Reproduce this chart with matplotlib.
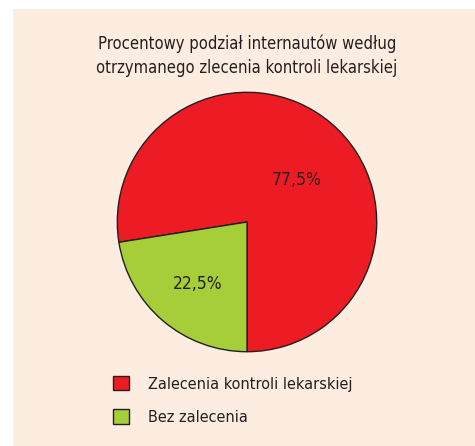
import matplotlib
matplotlib.use("Agg")
import matplotlib.pyplot as plt
from matplotlib.patches import Rectangle, Patch

W, H = 475, 446
DPI = 100

TITLE = "Procentowy podział internautów według\notrzymanego zlecenia kontroli lekarskiej"
labels = ["Zalecenia kontroli lekarskiej", "Bez zalecenia"]
values = [77.5, 22.5]
colors = ["#ED1C24", "#A6CE39"]
BG = "#FDEDE0"
INK = "#231F20"

plt.rcParams["font.family"] = ["DejaVu Sans"]
plt.rcParams["font.stretch"] = "condensed"

fig = plt.figure(figsize=(W / DPI, H / DPI), dpi=DPI, facecolor="white")

# beige panel
fig.patches.append(Rectangle((13 / W, 0), 1 - 13 / W, (H - 9) / H,
                             transform=fig.transFigure, facecolor=BG,
                             edgecolor="none", zorder=-1))

fig.text(247 / W, 1 - 56 / H, TITLE, ha="center", va="center",
         fontsize=11.9, color=INK, linespacing=1.45)

# pie axes: centre (247, 222) px, radius 131 px
cx, cy, r = 247, 222, 131
ax = fig.add_axes([(cx - r) / W, (H - cy - r) / H, 2 * r / W, 2 * r / H])
ax.set_facecolor("none")
wedges, texts, autotexts = ax.pie(
    values, colors=colors, startangle=270, counterclock=True,
    autopct=lambda p: f"{p:.1f}%".replace(".", ","),
    wedgeprops=dict(edgecolor=INK, linewidth=1),
    textprops=dict(fontsize=12.5, color=INK))
# label placement as in the original
autotexts[0].set_position((0.38, 0.32))
autotexts[1].set_position((-0.38, -0.48))
ax.set_xlim(-1.01, 1.01)
ax.set_ylim(-1.01, 1.01)

handles = [Patch(facecolor=c, edgecolor=INK, linewidth=1) for c in colors]
fig.legend(handles, labels, loc="upper left",
           bbox_to_anchor=(113 / W, 1 - 376 / H), frameon=False,
           borderpad=0, borderaxespad=0,
           fontsize=11.6, handlelength=1.0, handleheight=1.0,
           handletextpad=1.2, labelspacing=1.1, labelcolor=INK)

fig.savefig("out.png", dpi=DPI, facecolor="white")
